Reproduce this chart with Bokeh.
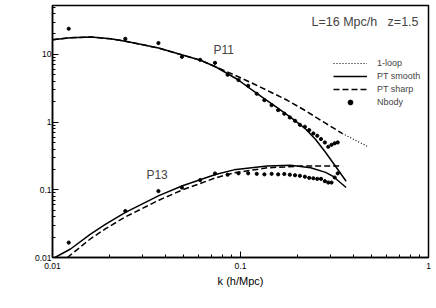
from bokeh.plotting import figure
from bokeh.models import Range1d, FixedTicker, CustomJSTickFormatter, Legend, LegendItem, Label
from bokeh.embed import file_html
from bokeh.resources import INLINE

# ---- data ----
# N-body measurements
nb_k = [0.0122, 0.0244, 0.0366, 0.0488, 0.061, 0.0732, 0.0854, 0.0976, 0.1098, 0.122,
        0.134, 0.1464, 0.1586, 0.171, 0.183, 0.195, 0.207, 0.22, 0.232, 0.244,
        0.256, 0.268, 0.281, 0.293, 0.305, 0.317, 0.329]
nb_p11 = [23.9, 17.0, 14.7, 9.2, 8.3, 7.5, 5.0, 4.17, 3.44, 2.62,
          2.11, 1.78, 1.50, 1.33, 1.17, 1.045, 0.912, 0.853, 0.762, 0.679,
          0.628, 0.561, 0.50, 0.432, 0.462, 0.486, 0.50]
nb_p13 = [0.0166, 0.0485, 0.0957, 0.108, 0.139, 0.174, 0.167, 0.175, 0.175, 0.172,
          0.169, 0.172, 0.169, 0.171, 0.167, 0.164, 0.161, 0.156, 0.150, 0.148,
          0.145, 0.145, 0.134, 0.128, 0.128, 0.152, 0.175]

# P11, PT smooth
p11s_k = [0.01, 0.01247, 0.01593, 0.02035, 0.02444, 0.02937, 0.03665, 0.04913, 0.06131,
          0.07363, 0.0961, 0.11308, 0.13428, 0.15741, 0.18329, 0.20125, 0.2219, 0.25096,
          0.28372, 0.32077, 0.3646]
p11s_v = [16.43, 17.59, 18.07, 17.0, 15.62, 14.10, 12.39, 9.77, 8.18,
          6.56, 4.29, 3.10, 2.209, 1.616, 1.197, 0.983, 0.791, 0.553,
          0.3556, 0.2209, 0.1335]
# P11, PT sharp
p11d_k = [0.01, 0.01247, 0.01593, 0.02035, 0.02444, 0.02937, 0.03665, 0.04913, 0.06131,
          0.07363, 0.0961, 0.1202, 0.1443, 0.1775, 0.2219, 0.2665, 0.3475]
p11d_v = [16.43, 17.59, 18.07, 17.0, 15.62, 14.10, 12.39, 9.77, 8.18,
          6.56, 4.75, 3.556, 2.783, 2.099, 1.469, 1.070, 0.679]
# P11, 1-loop (visible beyond the PT sharp curve)
loop_k = [0.3475, 0.4038, 0.4714]
loop_v = [0.679, 0.5477, 0.442]

# P13, PT smooth
p13s_k = [0.0103, 0.01247, 0.01593, 0.0191, 0.02444, 0.0368, 0.04913, 0.07363, 0.0923,
          0.1385, 0.1845, 0.236, 0.2837, 0.3125, 0.3646]
p13s_v = [0.01, 0.01335, 0.0221, 0.0309, 0.0465, 0.0821, 0.1146, 0.168, 0.197,
          0.2254, 0.2305, 0.211, 0.181, 0.156, 0.108]
# P13, PT sharp
p13d_k = [0.012, 0.01593, 0.0191, 0.02444, 0.0368, 0.04913, 0.07363, 0.0923, 0.1385,
          0.208, 0.3475]
p13d_v = [0.01, 0.0189, 0.0265, 0.0398, 0.0702, 0.0997, 0.150, 0.178, 0.211,
          0.224, 0.224]

x_ticks = [0.01, 0.1, 1]
y_ticks = [0.01, 0.1, 1, 10]

FONT = "Liberation Sans"

p = figure(x_axis_type="log", y_axis_type="log",
           x_range=Range1d(0.01, 1), y_range=Range1d(0.01, 52.7),
           frame_width=376, frame_height=252,
           min_border_left=52, min_border_right=8, min_border_top=5, min_border_bottom=51,
           output_backend="svg", toolbar_location=None,
           background_fill_color="white", border_fill_color="white")

p.xgrid.visible = False
p.ygrid.visible = False
p.outline_line_color = "black"
p.outline_line_width = 1.5

minor_x = [m * 10.0 ** e for e in (-2, -1) for m in range(2, 10)]
minor_y = [m * 10.0 ** e for e in (-2, -1, 0, 1) for m in range(2, 10)]
p.xaxis.ticker = FixedTicker(ticks=x_ticks, minor_ticks=minor_x)
p.yaxis.ticker = FixedTicker(ticks=y_ticks, minor_ticks=minor_y)
p.xaxis.formatter = CustomJSTickFormatter(code="return tick.toString();")
p.yaxis.formatter = CustomJSTickFormatter(code="return tick.toString();")

for ax in (p.xaxis[0], p.yaxis[0]):
    ax.axis_line_width = 1.5
    ax.axis_line_color = "black"
    ax.major_tick_in = 6
    ax.major_tick_out = 0
    ax.minor_tick_in = 3
    ax.minor_tick_out = 0
    ax.major_tick_line_color = "black"
    ax.minor_tick_line_color = "black"
    ax.major_label_text_font = FONT
    ax.major_label_text_font_size = "8.5px"
    ax.major_label_text_color = "black"
p.xaxis.major_label_standoff = 5
p.yaxis.major_label_standoff = 1

p.xaxis.axis_label = "k (h/Mpc)"
p.xaxis.axis_label_text_font = FONT
p.xaxis.axis_label_text_font_size = "11px"
p.xaxis.axis_label_text_font_style = "normal"
p.xaxis.axis_label_text_color = "black"
p.xaxis.axis_label_standoff = 3

# curves
r_loop = p.line(loop_k, loop_v, line_color="black", line_width=1.2, line_dash="1 2")
r_p11s = p.line(p11s_k, p11s_v, line_color="black", line_width=1.5)
r_p11d = p.line(p11d_k, p11d_v, line_color="black", line_width=1.5, line_dash="6 3")
p.line(p13s_k, p13s_v, line_color="black", line_width=1.5)
p.line(p13d_k, p13d_v, line_color="black", line_width=1.5, line_dash="6 3")
r_nb = p.scatter(nb_k, nb_p11, size=3.2, color="black")
p.scatter(nb_k, nb_p13, size=3.2, color="black")

legend = Legend(items=[LegendItem(label="1-loop", renderers=[r_loop]),
                       LegendItem(label="PT smooth", renderers=[r_p11s]),
                       LegendItem(label="PT sharp", renderers=[r_p11d]),
                       LegendItem(label="Nbody", renderers=[r_nb])],
                location=(281, 149), padding=0, margin=0, spacing=1,
                glyph_width=34, glyph_height=12, label_height=12, label_standoff=10,
                label_text_font=FONT, label_text_font_size="9px",
                border_line_color=None, background_fill_alpha=0)
p.add_layout(legend)

p.add_layout(Label(x=0.885, y=30.3, text="L=16 Mpc/h\u00a0\u00a0\u00a0z=1.5", text_align="right",
                   text_baseline="middle", text_font=FONT, text_font_size="12.5px"))
p.add_layout(Label(x=0.0719, y=11.7, text="P11", text_align="left",
                   text_baseline="middle", text_font=FONT, text_font_size="12px"))
p.add_layout(Label(x=0.0316, y=0.1667, text="P13", text_align="left",
                   text_baseline="middle", text_font=FONT, text_font_size="12px"))

open("out.html", "w").write(file_html(p, INLINE))
